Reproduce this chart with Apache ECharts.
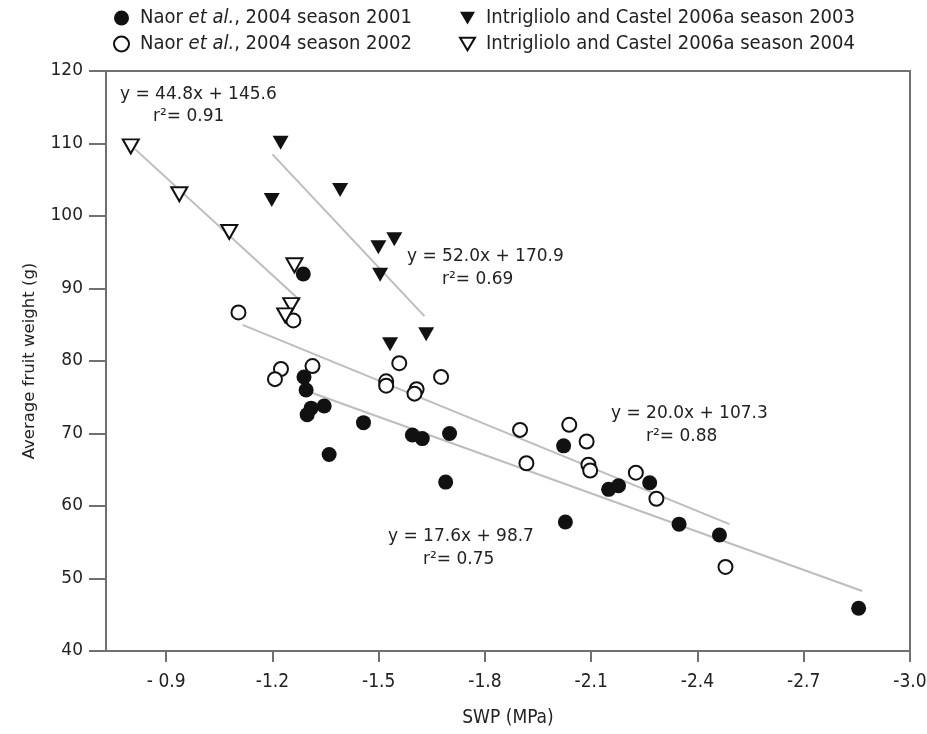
<!DOCTYPE html>
<html><head><meta charset="utf-8">
<script src="https://cdn.jsdelivr.net/npm/echarts@6/dist/echarts.min.js"></script>
<style>html,body{margin:0;padding:0;background:#fff}#c{width:927px;height:734px}</style>
</head><body><div id="c"></div>
<script>
// ---- data ----
const seriesNames = ['Naor et al., 2004 season 2001', 'Naor et al., 2004 season 2002',
  'Intrigliolo and Castel 2006a season 2003', 'Intrigliolo and Castel 2006a season 2004'];
const naor2001X = [-1.287,-1.289,-1.295,-1.309,-1.298,-1.346,-1.457,-1.36,-1.595,-1.623,-1.70,-1.689,-2.022,-2.027,-2.149,-2.177,-2.265,-2.348,-2.462,-2.855];
const naor2001Y = [92.0,77.8,76.0,73.5,72.6,73.8,71.5,67.1,69.8,69.3,70.0,63.3,68.3,57.8,62.3,62.8,63.2,57.5,56.0,45.9];
const naor2002X = [-1.104,-1.259,-1.224,-1.207,-1.313,-1.558,-1.521,-1.521,-1.607,-1.601,-1.676,-1.899,-1.917,-2.038,-2.087,-2.092,-2.097,-2.226,-2.284,-2.479];
const naor2002Y = [86.7,85.6,78.9,77.5,79.3,79.7,77.2,76.6,76.1,75.5,77.8,70.5,65.9,71.2,68.9,65.7,64.9,64.6,61.0,51.6];
const intrig2003X = [-1.223,-1.198,-1.391,-1.544,-1.499,-1.504,-1.634,-1.532];
const intrig2003Y = [110.1,102.2,103.6,96.8,95.7,91.9,83.7,82.3];
const intrig2004X = [-0.80,-0.937,-1.078,-1.262,-1.253,-1.236];
const intrig2004Y = [109.6,103.0,97.8,93.2,87.7,86.3];
// regression fits: slope, intercept, x range
const fitSlope = [17.6, 20.0, 52.0, 44.8];
const fitIntercept = [98.7, 107.3, 170.9, 145.6];
const fitFrom = [-1.311, -1.116, -1.200, -0.812];
const fitTo = [-2.865, -2.490, -1.629, -1.278];
const fitR2 = ['0.75', '0.88', '0.69', '0.91'];
const xTicks = [-3.0, -2.7, -2.4, -2.1, -1.8, -1.5, -1.2, -0.9];
const yTicks = [40, 50, 60, 70, 80, 90, 100, 110, 120];

const zip = (xs, ys) => xs.map((x, i) => [x, ys[i]]);
const TRI = 'path://M0,0L20,0L10,17Z';
const condensed = '"DejaVu Sans Condensed", "Liberation Sans Narrow", "DejaVu Sans", sans-serif';
const regular = '"DejaVu Sans", sans-serif';
const axisColor = '#707070';

const markerStyles = [
  { symbol: 'circle', symbolSize: 15, itemStyle: { color: '#111', borderColor: '#111', borderWidth: 0, opacity: 1 } },
  { symbol: 'circle', symbolSize: 14, itemStyle: { color: '#fff', borderColor: '#111', borderWidth: 2, opacity: 1 } },
  { symbol: TRI, symbolSize: [16, 14], itemStyle: { color: '#111', borderColor: '#111', borderWidth: 0, opacity: 1 } },
  { symbol: TRI, symbolSize: [16, 14], itemStyle: { color: '#fff', borderColor: '#111', borderWidth: 2, opacity: 1 } }
];
const pointData = [zip(naor2001X, naor2001Y), zip(naor2002X, naor2002Y), zip(intrig2003X, intrig2003Y), zip(intrig2004X, intrig2004Y)];

const series = [];
fitSlope.forEach((a, i) => {
  const b = fitIntercept[i];
  series.push({
    type: 'line', name: 'fit' + i, silent: true, symbol: 'none', z: 1,
    lineStyle: { color: '#bdbdbd', width: 2 },
    data: [[fitFrom[i], a * fitFrom[i] + b], [fitTo[i], a * fitTo[i] + b]]
  });
});
pointData.forEach((d, i) => {
  series.push(Object.assign({ type: 'scatter', name: seriesNames[i], z: 5, data: d }, markerStyles[i]));
});

const legendCommon = {
  orient: 'vertical', itemGap: 6, itemWidth: 15, itemHeight: 15,
  textStyle: { fontFamily: condensed, fontSize: 20, color: '#222', padding: [0, 0, 0, 6],
    rich: { i: { fontFamily: condensed, fontSize: 20, color: '#222', fontStyle: 'italic' } } },
  formatter: n => n.replace('et al.', '{i|et al.}')
};

const annText = (left, top, txt) => ({ type: 'text', left, top, style: { text: txt, font: '17px "DejaVu Sans", sans-serif', fill: '#222' } });

const chart = echarts.init(document.getElementById('c'), null, { renderer: 'canvas' });
chart.setOption({
  animation: false,
  backgroundColor: '#fff',
  grid: { left: 106, right: 17, top: 71, bottom: 83, show: true, borderColor: axisColor, borderWidth: 2, outerBoundsMode: 'none' },
  legend: [
    Object.assign({ left: 108, top: 3, data: [seriesNames[0], seriesNames[1]] }, legendCommon),
    Object.assign({ left: 454, top: 3, data: [seriesNames[2], seriesNames[3]] }, legendCommon)
  ],
  xAxis: {
    type: 'value', inverse: true, min: xTicks[0], max: -0.73, interval: 0.3,
    name: 'SWP (MPa)', nameLocation: 'middle', nameGap: 58,
    nameTextStyle: { fontFamily: condensed, fontSize: 19, color: '#222' },
    axisLine: { lineStyle: { color: axisColor, width: 2 } },
    axisTick: { length: 11, customValues: xTicks, lineStyle: { color: axisColor, width: 2 } },
    splitLine: { show: false },
    axisLabel: {
      margin: 22, fontFamily: condensed, fontSize: 19, color: '#222', customValues: xTicks,
      formatter: v => {
        const hit = xTicks.find(t => Math.abs(t - v) < 1e-6);
        if (hit === undefined) return '';
        return hit === -0.9 ? '- 0.9' : hit.toFixed(1);
      }
    }
  },
  yAxis: {
    type: 'value', min: yTicks[0], max: yTicks[yTicks.length - 1], interval: 10,
    name: 'Average fruit weight (g)', nameLocation: 'middle', nameGap: 68,
    nameTextStyle: { fontFamily: regular, fontSize: 16.5, color: '#222' },
    axisLine: { lineStyle: { color: axisColor, width: 2 } },
    axisTick: { length: 17, lineStyle: { color: axisColor, width: 2 } },
    splitLine: { show: false },
    axisLabel: { margin: 23, fontFamily: regular, fontSize: 17, color: '#222' }
  },
  graphic: [
    annText(120, 86, 'y = 44.8x + 145.6'), annText(153, 108, 'r\u00b2= ' + fitR2[3]),
    annText(407, 248, 'y = 52.0x + 170.9'), annText(442, 271, 'r\u00b2= ' + fitR2[2]),
    annText(611, 405, 'y = 20.0x + 107.3'), annText(646, 428, 'r\u00b2= ' + fitR2[1]),
    annText(388, 528, 'y = 17.6x + 98.7'), annText(423, 551, 'r\u00b2= ' + fitR2[0])
  ],
  series
});
</script></body></html>
